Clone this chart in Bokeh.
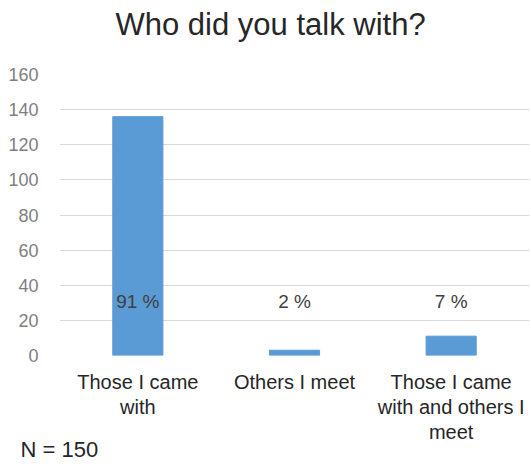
from bokeh.plotting import figure
from bokeh.embed import file_html
from bokeh.resources import INLINE
from bokeh.models import ColumnDataSource, Title, FixedTicker, Range1d
from bokeh.core.properties import value

# ---- data ----
categories = ["Those I came\nwith", "Others I meet", "Those I came\nwith and others I\nmeet"]
counts = [136, 3, 11]
percent_labels = ["91 %", "2 %", "7 %"]
y_ticks = [0, 20, 40, 60, 80, 100, 120, 140, 160]
title_text = "Who did you talk with?"
note_text = "N = 150"
label_y = 31

FONT = "Liberation Sans"

src = ColumnDataSource(dict(x=categories, top=counts, pct=percent_labels,
                            ly=[label_y] * len(categories)))

p = figure(x_range=categories, y_range=Range1d(0, 160), width=531, height=464,
           output_backend="svg", toolbar_location=None,
           min_border_left=59, min_border_right=2, min_border_top=74,
           min_border_bottom=109)
p.outline_line_color = None
p.background_fill_color = "white"
p.border_fill_color = "white"

p.vbar(x="x", top="top", width=0.32, source=src, fill_color="#5b9bd5",
       line_color="#5b9bd5")
p.text(x="x", y="ly", text="pct", source=src, text_align="center",
       text_baseline="middle", text_font=value(FONT), text_font_size="19px",
       text_color="#404040")

# title (trailing empty line lifts the text inside the top border)
p.title.text = title_text + "\n"
p.title.align = "left"
p.title.offset = 56
p.title.vertical_align = "top"
p.title.text_font = FONT
p.title.text_font_size = "31px"
p.title.text_font_style = "normal"
p.title.text_color = "#262626"
p.title.text_line_height = 0.71
p.title.standoff = 11

# y axis
p.yaxis.ticker = FixedTicker(ticks=y_ticks)
p.yaxis.axis_line_color = None
p.yaxis.major_tick_line_color = None
p.yaxis.minor_tick_line_color = None
p.yaxis.major_label_standoff = 15
p.yaxis.major_label_text_font = FONT
p.yaxis.major_label_text_font_size = "18px"
p.yaxis.major_label_text_color = "#808080"

# x axis
p.xaxis.axis_line_color = None
p.xaxis.major_tick_line_color = None
p.xaxis.minor_tick_line_color = None
p.xaxis.major_label_standoff = 9
p.xaxis.major_label_text_font = FONT
p.xaxis.major_label_text_font_size = "20px"
p.xaxis.major_label_text_color = "#262626"
p.xaxis.major_label_text_line_height = 1.15

p.xgrid.grid_line_color = None
p.ygrid.grid_line_color = "#d9d9d9"
p.ygrid.grid_line_width = 1

note = Title(text=note_text, align="left", offset=-39, text_font=FONT,
             text_font_size="22px", text_font_style="normal",
             text_color="#262626", standoff=-20, vertical_align="top",
             text_line_height=1.0)
p.add_layout(note, "below")

open("out.html", "w").write(file_html(p, INLINE))
